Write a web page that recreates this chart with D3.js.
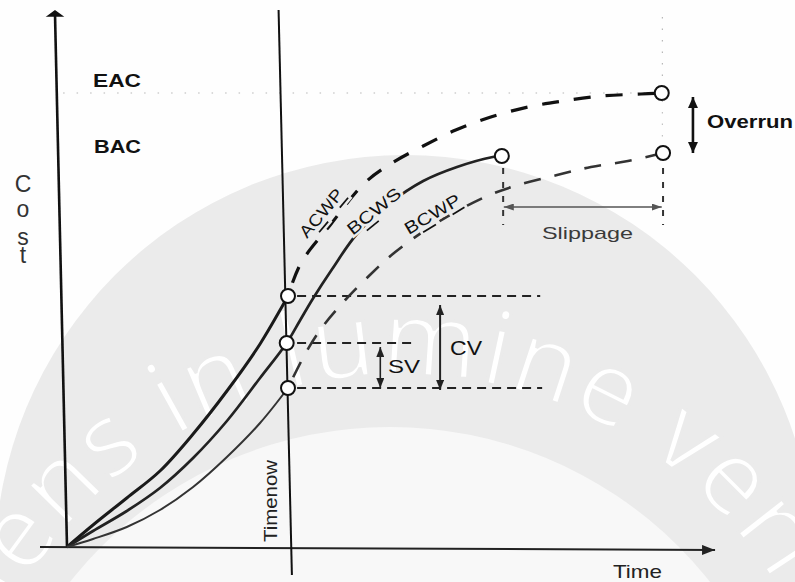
<!DOCTYPE html>
<html><head><meta charset="utf-8">
<script src="https://cdn.jsdelivr.net/npm/d3@7"></script>
<style>html,body{margin:0;padding:0;background:#fff;overflow:hidden}</style>
</head><body>
<svg id="chart" width="795" height="582"></svg>
<script>
// ---------------- DATA (time units 0-100, cost units 0-100) ----------------
const curveNames = ["ACWP", "BCWS", "BCWP"];
// ACWP: actual cost to date (solid) and forecast to EAC (dashed)
const acwpToDate   = [[0,0],[4.0,4.4],[9.2,9.8],[14.3,15.2],[19.4,22.6],[24.6,31.2],[29.7,40.6],[34.0,50.2]];
const acwpForecast = [[34.0,50.2],[36.0,56.8],[40.5,64.4],[45.8,72.8],[50.0,76.8],[54.8,80.2],[59.8,83.4],[65.2,86.0],[70.9,88.0],[76.3,89.2],[82.3,90.2],[88.3,90.6],[91.5,90.8]];
// BCWS: planned value (solid to BAC)
const bcwsPlan     = [[0,0],[4.0,3.2],[9.2,7.2],[14.3,11.8],[19.4,17.8],[24.6,25.2],[29.7,33.8],[33.8,40.8],[35.8,45.2],[37.8,49.6],[40.8,55.6],[44.6,62.6],[49.7,68.8],[54.8,73.2],[60.0,76.0],[65.5,78.0],[66.9,78.2]];
// BCWP: earned value to date (solid) and forecast (dashed)
const bcwpToDate   = [[0,0],[4.0,1.6],[9.2,4.0],[14.3,7.4],[19.4,12.0],[24.6,18.0],[29.7,24.8],[34.0,31.8]];
const bcwpForecast = [[34.0,31.8],[36.8,39.0],[39.4,44.2],[42.8,49.4],[46.6,54.4],[50.5,59.0],[56.6,64.6],[64.3,70.0],[69.4,72.4],[75.4,74.4],[80.6,76.0],[86.3,77.2],[91.7,78.8]];
// key points (circles)
const keyPoints = [[34.0,50.2],[33.8,40.8],[34.0,31.8],[66.9,78.2],[91.5,90.8],[91.7,78.8]];
// time now
const timeNowLine = [[32.55,107.4],[34.6,-5.6]];
const timeNow = 34.0;
// axes
const yAxisLine = [[-1.85,106.8],[0,0]];
const xAxisLine = [[-4.15,0],[99.7,-0.6]];
// levels
const eacLevel = 90.8, bacLevel = 78.2;
const acwpNow = 50.2, bcwsNow = 40.8, bcwpNow = 31.8;
const bacTime = 66.9, eacTime = 91.6;
// reference dashed lines [level, tStart, tEnd]
const refLines = [[acwpNow,35.4,72.8],[bcwsNow,35.4,53.5],[bcwpNow,35.4,73.1]];
// variance arrows [t, cTop, cBottom]
const svArrow = [48.2, 40.0, 31.8];
const cvArrow = [57.4, 48.4, 31.4];
const overrunArrow = [96.3, 90.0, 78.8];
const slippageLevel = 68.0;
const dropLines = [[67.1,75.8,64.4],[91.7,75.8,64.4]];
// labels
const curveLabels = [
  {name:"ACWP", t:39.1, c:66.8, angle:-50, parts:[["A",0],["C",1],["W",0],["P",1]], len:58},
  {name:"BCWS", t:47.2, c:67.2, angle:-39, parts:[["B",0],["C",1],["W",0],["S",0]], len:64},
  {name:"BCWP", t:56.2, c:66.6, angle:-31, parts:[["B",0],["C",1],["W",0],["P",1]], len:62}
];
const costLetters = ["C","o","s","t"];

// ---------------- SCALES ----------------
const svg = d3.select("#chart");
const x = d3.scaleLinear().domain([0,100]).range([67,717]);
const y = d3.scaleLinear().domain([0,100]).range([547,47]);
const smooth = d3.line().x(d=>x(d[0])).y(d=>y(d[1])).curve(d3.curveCatmullRom.alpha(0.5));
const straight = d3.line().x(d=>x(d[0])).y(d=>y(d[1]));
const FONT = "'Liberation Sans', Arial, Helvetica, sans-serif";

const defs = svg.append("defs");
function marker(id, w, h, color){
  defs.append("marker").attr("id",id).attr("viewBox",`0 0 ${w} ${h}`)
    .attr("refX",w).attr("refY",h/2).attr("markerWidth",w).attr("markerHeight",h)
    .attr("markerUnits","userSpaceOnUse").attr("orient","auto-start-reverse")
    .append("path").attr("d",`M0,0 L${w},${h/2} L0,${h} Z`).attr("fill",color);
}
marker("arrBlack",11,10,"#111");
marker("arrDark",10,8,"#222");
marker("arrGray",10,7,"#555");
marker("arrAxis",13,10,"#222");

// ---------------- WATERMARK ----------------
const bg = svg.append("g");
bg.append("rect").attr("width",795).attr("height",582).attr("fill","#fefefe");
bg.append("circle").attr("cx",405).attr("cy",565).attr("r",410).attr("fill","#ebebeb");
bg.append("circle").attr("cx",390).attr("cy",835).attr("r",408).attr("fill","#f8f8f8");
defs.append("path").attr("id","wmArc").attr("d","M -40,815 A 440 440 0 0 1 840,815");
bg.append("text").attr("font-family","'Open Sans', 'DejaVu Sans', sans-serif")
  .attr("font-size",104).attr("letter-spacing",2).attr("fill","#ffffff").attr("stroke","#ebebeb").attr("stroke-width",3.2)
  .append("textPath").attr("href","#wmArc").attr("startOffset",219).text("lens in lumine veritas");

// ---------------- FAINT GUIDES ----------------
const g = svg.append("g");
g.append("path").attr("d",straight([[-0.6,eacLevel],[eacTime-1,eacLevel]]))
  .attr("stroke","#888").attr("stroke-width",1.2).attr("stroke-dasharray","1.5,12").attr("fill","none").attr("opacity",0.6);
g.append("path").attr("d",straight([[eacTime,106],[eacTime,eacLevel+1.5]]))
  .attr("stroke","#888").attr("stroke-width",1.2).attr("stroke-dasharray","1.5,10").attr("fill","none").attr("opacity",0.6);
g.append("path").attr("d",straight([[eacTime,eacLevel-1.5],[eacTime,bacLevel+1.5]]))
  .attr("stroke","#888").attr("stroke-width",1.2).attr("stroke-dasharray","1.5,10").attr("fill","none").attr("opacity",0.5);

// ---------------- AXES ----------------
g.append("path").attr("d",straight(yAxisLine)).attr("stroke","#111").attr("stroke-width",2.6).attr("fill","none");
// y-axis top cap
const yTop = yAxisLine[0];
g.append("path").attr("d",`M${x(yTop[0])-7},${y(yTop[1])+3} L${x(yTop[0])},${y(yTop[1])-2} L${x(yTop[0])+7},${y(yTop[1])+3} Z`).attr("fill","#111").attr("stroke","#111").attr("stroke-width",1.5);
g.append("path").attr("d",straight(xAxisLine)).attr("stroke","#222").attr("stroke-width",2).attr("fill","none").attr("marker-end","url(#arrAxis)");
g.append("path").attr("d",straight(timeNowLine)).attr("stroke","#111").attr("stroke-width",2).attr("fill","none");

// ---------------- REFERENCE LINES ----------------
refLines.forEach(r=>{
  g.append("path").attr("d",straight([[r[1],r[0]],[r[2],r[0]]]))
   .attr("stroke","#222").attr("stroke-width",2).attr("stroke-dasharray","9,6").attr("fill","none");
});
dropLines.forEach(r=>{
  g.append("path").attr("d",straight([[r[0],r[1]],[r[0],r[2]]]))
   .attr("stroke","#333").attr("stroke-width",2).attr("stroke-dasharray","6,8").attr("fill","none");
});

// ---------------- CURVES ----------------
g.append("path").attr("d",smooth(acwpToDate)).attr("stroke","#1a1a1a").attr("stroke-width",3).attr("fill","none");
g.append("path").attr("d",smooth(bcwsPlan)).attr("stroke","#222").attr("stroke-width",2.7).attr("fill","none");
g.append("path").attr("d",smooth(bcwpToDate)).attr("stroke","#333").attr("stroke-width",2).attr("fill","none");
g.append("path").attr("d",smooth(acwpForecast)).attr("stroke","#111").attr("stroke-width",3.2).attr("stroke-dasharray","17,15").attr("stroke-dashoffset",-14).attr("fill","none");
g.append("path").attr("d",smooth(bcwpForecast)).attr("stroke","#333").attr("stroke-width",2.6).attr("stroke-dasharray","17,14").attr("stroke-dashoffset",-12).attr("fill","none");

// ---------------- ARROWS ----------------
g.append("path").attr("d",straight([[svArrow[0],svArrow[1]],[svArrow[0],svArrow[2]]]))
  .attr("stroke","#222").attr("stroke-width",1.6).attr("marker-start","url(#arrDark)").attr("marker-end","url(#arrDark)");
g.append("path").attr("d",straight([[cvArrow[0],cvArrow[1]],[cvArrow[0],cvArrow[2]]]))
  .attr("stroke","#222").attr("stroke-width",2).attr("marker-start","url(#arrDark)").attr("marker-end","url(#arrDark)");
g.append("path").attr("d",straight([[overrunArrow[0],overrunArrow[1]],[overrunArrow[0],overrunArrow[2]]]))
  .attr("stroke","#111").attr("stroke-width",2.6).attr("marker-start","url(#arrBlack)").attr("marker-end","url(#arrBlack)");
g.append("path").attr("d",straight([[bacTime+0.3,slippageLevel],[eacTime-0.1,slippageLevel]]))
  .attr("stroke","#555").attr("stroke-width",1.6).attr("marker-start","url(#arrGray)").attr("marker-end","url(#arrGray)");

// ---------------- KEY POINTS ----------------
g.selectAll("circle.kp").data(keyPoints).join("circle").attr("class","kp")
  .attr("cx",d=>x(d[0])).attr("cy",d=>y(d[1])).attr("r",7)
  .attr("fill","#fff").attr("stroke","#111").attr("stroke-width",2);

// ---------------- TEXT ----------------
function txt(s, px, py, size, opts={}){
  const t = g.append("text").attr("x",px).attr("y",py).attr("font-family",FONT)
    .attr("font-size",size).attr("fill",opts.fill||"#111").attr("font-weight",opts.weight||"normal").text(s);
  if(opts.len) t.attr("textLength",opts.len).attr("lengthAdjust","spacingAndGlyphs");
  if(opts.anchor) t.attr("text-anchor",opts.anchor);
  if(opts.transform) t.attr("transform",opts.transform);
  return t;
}
txt("EAC", 93, y(eacLevel)-6, 19, {weight:"bold", len:48});
txt("BAC", 94, y(bacLevel)-3, 19, {weight:"bold", len:47});
txt("Overrun", 707, 128, 19, {weight:"bold", len:86});
txt("CV", 450, 355, 20, {len:32});
txt("SV", 388, 373, 18, {len:32});
txt("Slippage", 542, 239, 17, {fill:"#3a3a3a", len:91});
txt("Time", 613, 578, 19, {len:49, fill:"#222"});
txt("Timenow", 0, 0, 18, {len:82, anchor:"middle", fill:"#222", transform:`translate(${x(timeNow)-11},501) rotate(-90)`});
const costY = [192, 217, 245, 263];
costLetters.forEach((ch,i)=>txt(ch, 23, costY[i], 23, {anchor:"middle", fill:"#333"}));

curveLabels.forEach(l=>{
  const t = g.append("text").attr("font-family",FONT).attr("font-size",17).attr("fill","#111")
    .attr("text-anchor","middle").attr("dominant-baseline","central")
    .attr("stroke","#ebebeb").attr("stroke-width",5).attr("paint-order","stroke")
    .attr("textLength",l.len).attr("lengthAdjust","spacingAndGlyphs")
    .attr("transform",`translate(${x(l.t)},${y(l.c)}) rotate(${l.angle})`);
  l.parts.forEach(p=>{
    const s = t.append("tspan").text(p[0]);
    if(p[1]) s.style("text-decoration","underline");
  });
});
</script>
</body></html>
